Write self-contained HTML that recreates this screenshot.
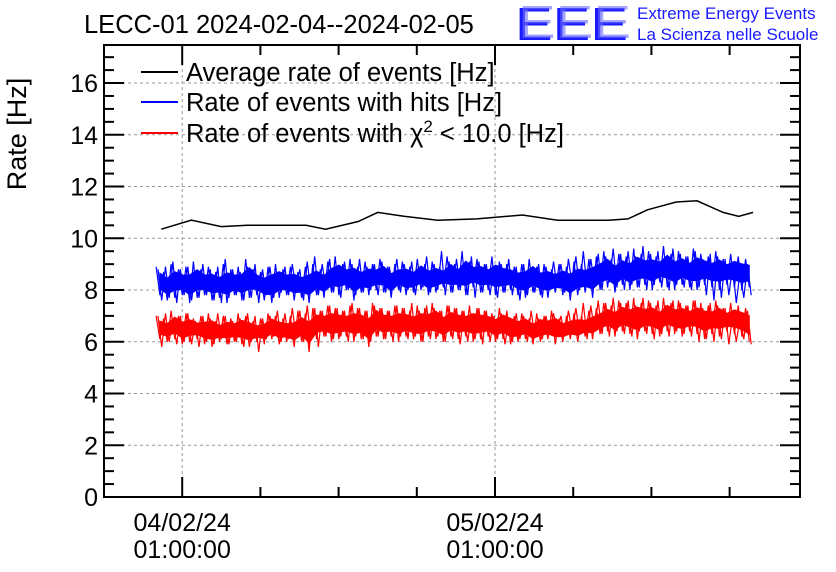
<!DOCTYPE html>
<html><head><meta charset="utf-8"><style>
body{margin:0;background:#fff;}
svg{display:block;font-family:"Liberation Sans",sans-serif;}
</style></head><body>
<svg id="c" width="836" height="572">
<text x="84" y="33" font-size="25.5">LECC-01 2024-02-04--2024-02-05</text>
<g fill="#1a1aff">
<text x="515" y="40" font-size="46" textLength="113" lengthAdjust="spacingAndGlyphs">EEE</text>
<text x="518" y="38" font-size="46" textLength="113" lengthAdjust="spacingAndGlyphs" fill="#6a6aff" opacity="0.6">EEE</text>
<text x="637" y="19" font-size="17">Extreme Energy Events</text>
<text x="637" y="40" font-size="17">La Scienza nelle Scuole</text>
</g>
<text transform="translate(26,134) rotate(-90)" font-size="27" text-anchor="middle">Rate [Hz]</text>
<g id="grid"></g><g id="series"></g><g id="axes"></g>
<g font-size="25.5">
<line x1="141" y1="72" x2="178" y2="72" stroke="#000" stroke-width="2"/>
<text x="186" y="81">Average rate of events [Hz]</text>
<line x1="141" y1="102" x2="178" y2="102" stroke="#0000ff" stroke-width="2"/>
<text x="186" y="111">Rate of events with hits [Hz]</text>
<line x1="141" y1="133" x2="178" y2="133" stroke="#ff0000" stroke-width="2"/>
<text x="186" y="142">Rate of events with χ<tspan dy="-10" font-size="17">2</tspan><tspan dy="10"> &lt; 10.0 [Hz]</tspan></text>
</g>
</svg>
<script>
// hours from 04/02/24 01:00:00
const avgHours=[-1.6,0.7,3,5,9.5,11,13.5,15,17,19.6,22.6,26.1,28.8,32.7,34.2,35.7,37.9,39.5,41.5,42.7,43.8];
const avgValues=[10.35,10.7,10.45,10.5,10.5,10.35,10.65,11.0,10.85,10.7,10.75,10.9,10.7,10.7,10.75,11.1,11.4,11.45,11.0,10.85,11.0];
const blueHi=[8.9,8.7,9.0,8.8,8.9,9.1,8.8,8.9,8.7,9.0,8.8,8.9,9.2,8.8,8.7,8.9,9.0,8.8,8.9,8.7,8.9,9.0,8.8,9.1,9.3,9.0,9.2,8.9,9.1,9.0,9.2,8.9,9.0,9.1,8.9,9.2,9.0,9.1,8.9,9.3,9.0,9.5,9.1,9.2,9.0,9.3,9.1,9.0,8.9,9.0,9.2,8.9,9.0,8.8,9.0,8.9,9.1,9.0,9.2,9.3,9.5,9.2,9.4,9.3,9.6,9.4,9.5,9.3,9.7,9.4,9.5,9.3,9.6,9.4,9.3,9.5,9.2,9.4,9.3,9.2];
const blueLo=[7.8,7.6,7.7,7.8,7.5,7.7,7.8,7.6,7.7,7.5,7.8,7.6,7.7,7.8,7.6,7.5,7.7,7.8,7.6,7.7,7.5,7.8,7.7,7.9,7.8,8.0,7.6,7.9,7.8,8.0,7.9,7.7,8.0,7.8,7.9,8.0,7.8,7.9,8.1,7.9,8.0,7.8,8.1,7.9,8.0,7.8,7.9,8.0,7.8,7.7,7.9,7.8,7.7,7.9,7.8,7.6,7.8,7.9,7.7,8.0,8.1,7.9,8.2,8.0,8.1,8.2,8.0,8.3,8.1,8.0,8.2,8.1,8.0,8.2,8.1,8.0,8.2,8.1,8.0,8.1];
const redHi=[7.0,6.9,7.2,7.0,7.1,6.9,7.0,7.1,6.8,7.0,6.9,7.1,7.0,6.8,6.9,7.1,7.0,6.9,7.0,7.2,7.1,7.3,7.2,7.4,7.3,7.2,7.4,7.3,7.2,7.5,7.3,7.2,7.4,7.3,7.2,7.4,7.3,7.5,7.2,7.4,7.3,7.2,7.4,7.3,7.2,7.1,7.3,7.2,7.0,7.1,6.9,7.1,7.0,7.2,6.9,7.0,7.1,7.0,7.2,7.3,7.5,7.4,7.6,7.5,7.7,7.5,7.6,7.4,7.7,7.5,7.6,7.4,7.6,7.5,7.4,7.6,7.3,7.5,7.4,7.3];
const redLo=[6.1,6.0,6.1,5.9,6.0,6.1,5.9,5.8,6.0,5.9,6.0,5.9,5.8,6.0,5.9,6.1,5.9,6.0,5.8,6.0,5.6,6.1,6.2,6.0,6.1,6.2,6.0,6.1,5.8,6.2,6.1,6.2,6.0,6.2,6.1,6.0,6.2,6.1,6.0,6.2,6.1,6.2,6.0,6.1,6.2,6.0,6.1,5.9,6.0,6.1,5.9,6.0,6.1,5.9,6.0,6.1,6.0,6.2,6.1,6.3,6.4,6.2,6.4,6.3,6.1,6.4,6.3,6.2,6.4,6.3,6.2,6.4,6.3,6.1,6.3,6.2,6.4,6.3,6.2,6.0];
const yTicks=[0,2,4,6,8,10,12,14,16];
const xMajorHours=[0,24];
const xMajorLabels=[["04/02/24","01:00:00"],["05/02/24","01:00:00"]];
const noiseStart=-2, noiseEnd=43.8;

const L=104,R=800,T=45,B=497,Y0=0,Y1=17.47;
const H0=-6,H1=47.4;
const xs=h=>L+(h-H0)/(H1-H0)*(R-L);
const ys=v=>B-(v-Y0)/(Y1-Y0)*(B-T);
const NS="http://www.w3.org/2000/svg";
function mk(t,a,p){const e=document.createElementNS(NS,t);for(const k in a)e.setAttribute(k,a[k]);p.appendChild(e);return e;}
const grid=document.getElementById('grid'),axes=document.getElementById('axes'),ser=document.getElementById('series');
yTicks.forEach(v=>{if(v===0)return;const g=mk('line',{x1:L,x2:R,y1:ys(v),y2:ys(v),stroke:'#999','stroke-dasharray':'3,3','stroke-width':1},grid);

});
xMajorHours.forEach(h=>{const g=mk('line',{x1:xs(h),x2:xs(h),y1:T,y2:B,stroke:'#999','stroke-dasharray':'3,3','stroke-width':1},grid);

});
let d='';avgHours.forEach((h,i)=>{d+=(i?'L':'M')+xs(h).toFixed(1)+','+ys(avgValues[i]).toFixed(1);});
const pa=mk('path',{d:d,fill:'none',stroke:'#000','stroke-width':1.5},ser);


function noise(hi,lo,col,name){const n=hi.length,hx=i=>noiseStart+(noiseEnd-noiseStart)*i/n;
// dense core band
let top='',bot='';
for(let i=0;i<n;i++){const m=(hi[i]+lo[i])/2;top+=(i?'L':'M')+xs(hx(i+0.5)).toFixed(1)+','+ys(m+(hi[i]-m)*0.55).toFixed(1)+' ';}
for(let i=n-1;i>=0;i--){const m=(hi[i]+lo[i])/2;bot+='L'+xs(hx(i+0.5)).toFixed(1)+','+ys(m-(m-lo[i])*0.55).toFixed(1)+' ';}
const band=mk('path',{d:top+bot+'Z',fill:col,stroke:col,'stroke-width':1},ser);


let p='';for(let i=0;i<n;i++){p+=(i?'L':'M')+xs(hx(i)).toFixed(1)+','+ys(hi[i]).toFixed(1)+'L'+xs(hx(i+0.5)).toFixed(1)+','+ys(lo[i]).toFixed(1);}
const e=mk('path',{d:p,fill:'none',stroke:col,'stroke-width':1.2},ser);


let p2='';for(let i=0;i<n;i++){const j=(i+3)%n,k=(i+7)%n;p2+=(i?'L':'M')+xs(hx(i+0.25)).toFixed(1)+','+ys(hi[j]).toFixed(1)+'L'+xs(hx(i+0.75)).toFixed(1)+','+ys(lo[k]).toFixed(1);}
const e2=mk('path',{d:p2,fill:'none',stroke:col,'stroke-width':1.2},ser);

}
noise(blueHi,blueLo,'#0000ff','hits-rate-line');
noise(redHi,redLo,'#ff0000','chi2-rate-line');
const fr=mk('rect',{x:L,y:T,width:R-L,height:B-T,fill:'none',stroke:'#000','stroke-width':2},axes);


for(let v=0;v<=Y1;v+=0.5){const maj=Math.abs(v-Math.round(v/2)*2)<1e-6,len=maj?20:10;
mk('line',{x1:L,x2:L+len,y1:ys(v),y2:ys(v),stroke:'#000','stroke-width':2},axes);
mk('line',{x1:R,x2:R-len,y1:ys(v),y2:ys(v),stroke:'#000','stroke-width':2},axes);}
yTicks.forEach(v=>{const t=mk('text',{x:L-6,y:ys(v)+9,'font-size':25,'text-anchor':'end'},axes);t.textContent=v;

});
for(let h=-6;h<=H1;h+=6){const maj=xMajorHours.includes(h),len=maj?20:10;
mk('line',{x1:xs(h),x2:xs(h),y1:B,y2:B-len,stroke:'#000','stroke-width':2},axes);
mk('line',{x1:xs(h),x2:xs(h),y1:T,y2:T+len,stroke:'#000','stroke-width':2},axes);}
xMajorHours.forEach((h,i)=>{xMajorLabels[i].forEach((s,j)=>{const t=mk('text',{x:xs(h),y:531+j*27,'font-size':25,'text-anchor':'middle'},axes);t.textContent=s;

});});
</script>
</body></html>
